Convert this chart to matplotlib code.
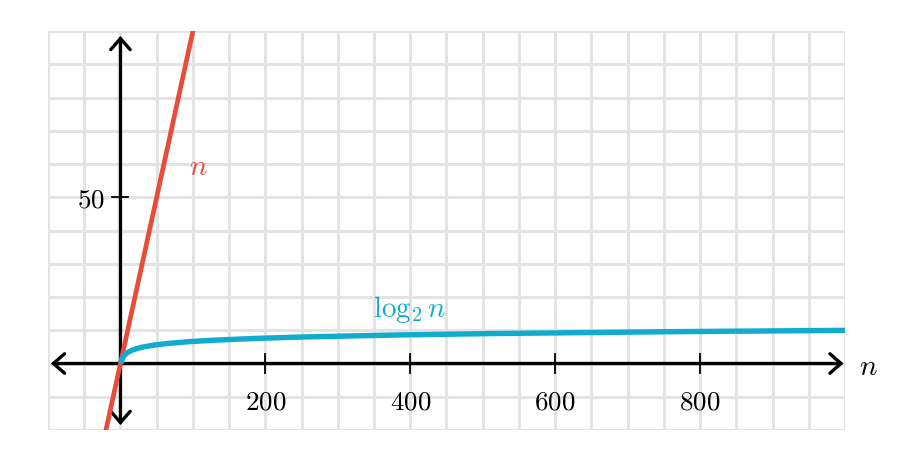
import matplotlib.pyplot as plt

plt.rcParams['mathtext.fontset'] = 'cm'
plt.rcParams['font.family'] = 'DejaVu Serif'

# ------------------ datos ------------------
lin_n = [-30, 110]
lin_y = [-30, 110]

log_n = [1, 1.5, 2, 3, 4, 6, 8, 12, 16, 24, 32, 48, 64, 96, 128,
         192, 256, 384, 512, 768, 1000]
log_y = [0, 0.585, 1, 1.585, 2, 2.585, 3, 3.585, 4, 4.585, 5, 5.585, 6, 6.585, 7,
         7.585, 8, 8.585, 9, 9.585, 9.966]

x_ticks = [200, 400, 600, 800]
y_ticks = [50]

RED = '#e84d39'
BLUE = '#11accd'
GRID = '#e3e3e3'

XMIN, XMAX = -100, 1000
YMIN, YMAX = -20, 100

fig = plt.figure(figsize=(9.12, 4.56), dpi=100)
ax = fig.add_axes([48/912, 25/456, 797/912, 399/456])
ax.set_xlim(XMIN, XMAX)
ax.set_ylim(YMIN, YMAX)

# grid
for gx in range(XMIN, XMAX + 1, 50):
    ax.axvline(gx, color=GRID, lw=2.2, zorder=0)
for gy in range(YMIN, YMAX + 1, 10):
    ax.axhline(gy, color=GRID, lw=2.2, zorder=0)
for s in ax.spines.values():
    s.set_visible(False)
ax.set_xticks([])
ax.set_yticks([])

# ejes con flechas
arrow = dict(arrowstyle='<->, head_length=0.4, head_width=0.35', lw=2.4, color='black',
             shrinkA=0, shrinkB=0, mutation_scale=20, joinstyle='miter', capstyle='round')
ax.annotate('', xy=(XMAX - 2, 0), xytext=(XMIN + 4, 0), arrowprops=arrow, zorder=3)
ax.annotate('', xy=(0, YMAX - 1.5), xytext=(0, YMIN + 1.5), arrowprops=arrow, zorder=3)

# ticks
for t in x_ticks:
    ax.plot([t, t], [-3, 3], color='black', lw=1.3, zorder=3)
    ax.text(t, -11.2, f'${t}$', ha='center', va='center', fontsize=19.5)
for t in y_ticks:
    ax.plot([-11, 11], [t, t], color='black', lw=1.3, zorder=3)
    ax.text(-22, t - 0.5, f'${t}$', ha='right', va='center', fontsize=19.5)

# curvas
ax.plot(lin_n, lin_y, color=RED, lw=3.4, zorder=4, solid_capstyle='butt')
ax.plot(log_n, log_y, color=BLUE, lw=3.9, zorder=4, solid_capstyle='butt',
        solid_joinstyle='round')

# etiquetas
ax.text(108, 59.5, r'$n$', color=RED, fontsize=21, ha='center', va='center')
ax.text(400, 16.5, r'$\log_2 n$', color=BLUE, fontsize=21, ha='center', va='center')
ax.text(1020, -0.8, r'$n$', color='black', fontsize=21, ha='left', va='center', clip_on=False)

fig.savefig('out.png', dpi=100, facecolor='white')
